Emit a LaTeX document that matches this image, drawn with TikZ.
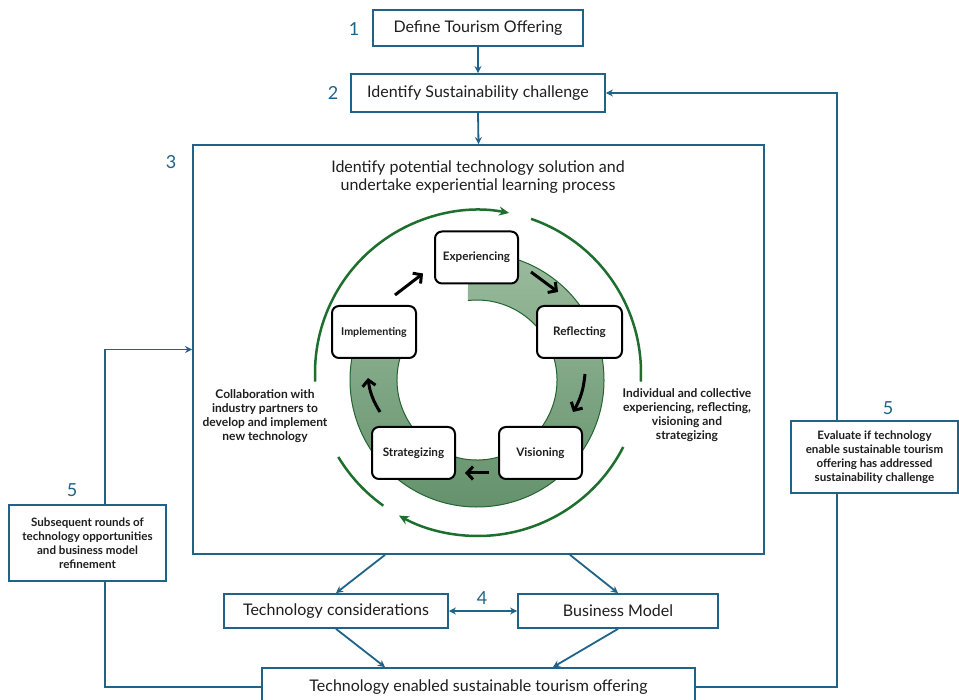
\documentclass[tikz,border=0pt]{standalone}
\usepackage{fontspec}
\setmainfont{Lato}
\usetikzlibrary{arrows.meta}
\definecolor{bl}{HTML}{1F6388}
\definecolor{gr}{RGB}{30,110,45}
\definecolor{ringtop}{RGB}{155,188,158}
\definecolor{ringbot}{RGB}{100,145,108}
\definecolor{ringline}{RGB}{35,100,48}
\definecolor{txt}{RGB}{30,30,30}
\begin{document}
\begin{tikzpicture}[x=1pt,y=-1pt,
 bbox/.style={draw=bl, line width=1.8pt, fill=white, text=txt, font=\fontsize{16}{19}\selectfont, inner sep=0pt},
 sbox/.style={draw=bl, line width=1.8pt, fill=white, text=txt, font=\bfseries\fontsize{11.6}{14}\selectfont, align=center, inner sep=0pt},
 num/.style={text=bl, font=\fontsize{18}{20}\selectfont},
 arr/.style={draw=bl, line width=1.8pt, -{Stealth[length=7pt,width=7pt]}},
 darr/.style={draw=bl, line width=1.8pt, {Stealth[length=7pt,width=7pt]}-{Stealth[length=7pt,width=7pt]}},
 ln/.style={draw=bl, line width=1.8pt},
 cbox/.style={draw=black, line width=2pt, rounded corners=7pt, fill=white, minimum width=83pt, minimum height=52pt, text=txt, font=\bfseries\fontsize{11.7}{14}\selectfont},
 garc/.style={draw=gr, line width=2.5pt},
 garr/.style={draw=gr, line width=2.5pt, -{Stealth[length=10pt,width=9pt]}},
 blk/.style={draw=black, line width=3pt, -{Straight Barb[length=6pt,width=13pt]}},
 side/.style={font=\bfseries\fontsize{12}{14}\selectfont, align=center, text=txt}
]
\useasboundingbox (0,0) rectangle (959,700);

% main flow boxes
\node[bbox, minimum width=210pt, minimum height=36pt] (n1) at (478,28) {Define Tourism Offering};
\node[bbox, minimum width=254pt, minimum height=38pt] (n2) at (478,93) {Identify Sustainability challenge};
\node[bbox, minimum width=571pt, minimum height=409pt] (big) at (478.5,349.5) {};
\node[text=txt, font=\fontsize{16}{18}\selectfont, align=center] (title) at (478,177) {Identify potential technology solution and\\undertake experiential learning process};
\node[sbox, minimum width=167pt, minimum height=72pt] (eval) at (874.5,457) {Evaluate if technology\\enable sustainable tourism\\offering has addressed\\sustainability challenge};
\node[sbox, minimum width=157pt, minimum height=76pt] (subs) at (87.5,543) {Subsequent rounds of\\technology opportunities\\and business model\\refinement};
\node[bbox, minimum width=224pt, minimum height=34pt] (tech) at (336,611) {Technology considerations};
\node[bbox, minimum width=200pt, minimum height=34pt] (bm) at (618,611) {Business Model};
\node[bbox, minimum width=433pt, minimum height=38pt] (final) at (478.5,687) {Technology enabled sustainable tourism offering};

% numbers
\node[num] (l1) at (354,29) {1};
\node[num] (l2) at (333,93) {2};
\node[num] (l3) at (171,162) {3};
\node[num] (l4) at (482,598) {4};
\node[num] (l5a) at (72,490) {5};
\node[num] (l5b) at (888,408) {5};

% connectors
\coordinate (rx) at (837,0);
\coordinate (lx) at (105,0);
\draw[arr] (n1.south) -- (n2.north);
\draw[arr] (n2.south) -- (big.north);
\draw[arr] (eval.north -| rx) |- (n2.east);
\draw[ln] (eval.south -| rx) |- (final.east);
\draw[arr] (subs.north -| lx) |- (big.west);
\draw[ln] (subs.south -| lx) |- (final.west);
\draw[arr] ([xshift=-93.5pt]big.south) -- (tech.north);
\draw[arr] ([xshift=91.5pt]big.south) -- (bm.north);
\draw[arr] (tech.south) -- ([xshift=-93.5pt]final.north);
\draw[arr] (bm.south) -- ([xshift=74.5pt]final.north);
\draw[darr] (tech.east) -- (bm.west);

% cycle ring
\coordinate (C) at (477,380);
\coordinate (O) at (478,373);
\shade[top color=ringtop, bottom color=ringbot] ([shift={(94:127pt)}]C) arc[start angle=94, end angle=-205, radius=127pt] -- ([shift={(-205:80pt)}]C) arc[start angle=-205, end angle=96.5, radius=80pt] -- cycle;
\draw[ringline, line width=1pt] ([shift={(94:127pt)}]C) arc[start angle=94, end angle=-205, radius=127pt];
\draw[ringline, line width=1pt] ([shift={(-205:80pt)}]C) arc[start angle=-205, end angle=96.5, radius=80pt];

% outer arcs
\draw[garr] ([shift={(183:163pt)}]O) arc[start angle=183, end angle=79, radius=163pt];
\draw[garc] ([shift={(71:163pt)}]O) arc[start angle=71, end angle=-3, radius=163pt];
\draw[garr] ([shift={(-27:163pt)}]O) arc[start angle=-27, end angle=-119, radius=163pt];
\draw[garc] ([shift={(211:163pt)}]O) arc[start angle=211, end angle=234.5, radius=163pt];

% cycle boxes
\node[cbox] (exp) at (476.5,257.5) {Experiencing};
\node[cbox, minimum width=85pt] (ref) at (579.5,332) {Reflecting};
\node[cbox] (vis) at (540.5,453) {Visioning};
\node[cbox] (str) at (413.5,453) {Strategizing};
\node[cbox, minimum width=84pt, font=\bfseries\fontsize{10.7}{13}\selectfont] (impl) at (374,332) {Implementing};

% cycle arrows
\draw[blk] ([shift={(21,-10)}]impl.north) -- ([shift={(-11,-11)}]exp.south west);
\draw[blk] ([shift={(12,14.5)}]exp.east) -- ([shift={(-21.5,-13)}]ref.north);
\draw[blk] ([shift={(5.5,15)}]ref.south) to[bend left=12] ([shift={(32.5,-14)}]vis.north);
\draw[blk] ([shift={(-9,20)}]vis.west) -- ([shift={(9,20)}]str.east);
\draw[blk] ([shift={(-33.5,-14)}]str.north) to[bend left=12] ([shift={(-6,19)}]impl.south);

% side texts
\node[side] (collab) at (265,416) {Collaboration with\\industry partners to\\develop and implement\\new technology};
\node[side] (indiv) at (687,415) {Individual and collective\\experiencing, reflecting,\\visioning and\\strategizing};
\end{tikzpicture}
\end{document}
